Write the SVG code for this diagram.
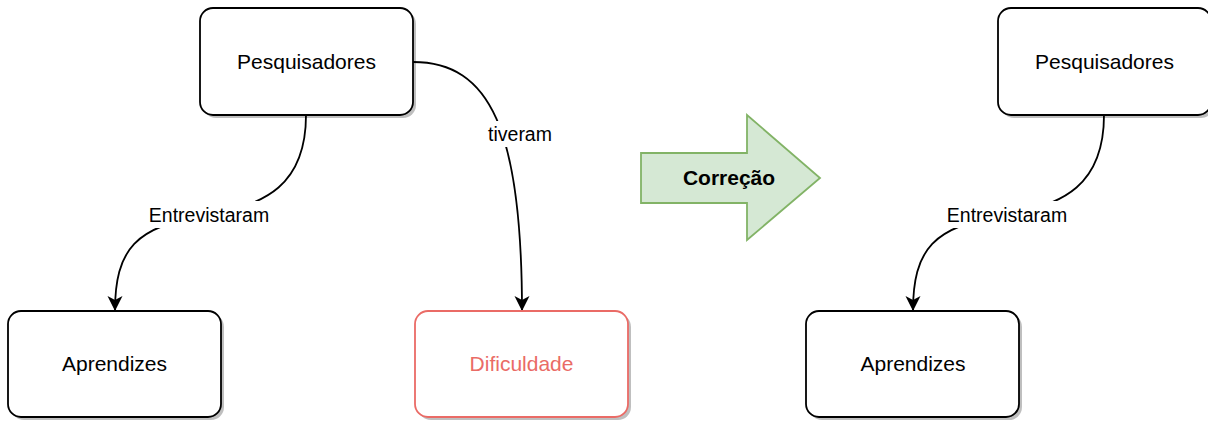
<svg xmlns="http://www.w3.org/2000/svg" width="1208" height="421" viewBox="0 0 1208 421">
<style>
.box{fill:#ffffff;stroke:#000000;stroke-width:1.8}
.red{fill:#ffffff;stroke:#ea6b66;stroke-width:1.8}
.shadow{fill:#000000;opacity:0.25}
.t{font-family:"Liberation Sans",Arial,Helvetica,sans-serif;font-size:21px;fill:#000000;text-anchor:middle}
.lbl{font-family:"Liberation Sans",Arial,Helvetica,sans-serif;font-size:19.5px;fill:#000000;text-anchor:middle}
.edge{fill:none;stroke:#000000;stroke-width:1.8}
.lblbg{fill:#ffffff}
</style>
<defs>
<marker id="arr" markerUnits="userSpaceOnUse" markerWidth="16" markerHeight="16" refX="15" refY="7.5" orient="auto">
<path d="M0,0 L15,7.5 L0,15 L4,7.5 Z" fill="#000000"/>
</marker>
</defs>
<rect width="1208" height="421" fill="#ffffff"/>
<g id="connectors">
<path class="edge" d="M306,115 C306,185 265,205 209,215 C135,225 115,250 115,311" marker-end="url(#arr)"/>
<path class="edge" d="M413,62 C490,62 522,130 522,311" marker-end="url(#arr)"/>
<path class="edge" d="M1104,115 C1104,185 1063,205 1007,215 C933,225 913,250 913,311" marker-end="url(#arr)"/>
<rect class="lblbg" x="147" y="201" width="124" height="27"/>
<text class="lbl" x="209" y="222">Entrevistaram</text>
<rect class="lblbg" x="486" y="121" width="68" height="26"/>
<text class="lbl" x="520" y="141">tiveram</text>
<rect class="lblbg" x="945" y="201" width="124" height="27"/>
<text class="lbl" x="1007" y="222">Entrevistaram</text>
</g>
<g id="pesquisadores-left">
<rect class="shadow" x="203" y="11" width="213" height="107" rx="13"/>
<rect class="box" x="200" y="8" width="213" height="107" rx="13"/>
<text class="t" x="306.5" y="69">Pesquisadores</text>
</g>
<g id="aprendizes-left">
<rect class="shadow" x="11" y="314" width="213" height="106" rx="13"/>
<rect class="box" x="8" y="311" width="213" height="106" rx="13"/>
<text class="t" x="114.5" y="371">Aprendizes</text>
</g>
<g id="dificuldade">
<rect class="shadow" x="418" y="314" width="213" height="106" rx="13"/>
<rect class="red" x="415" y="311" width="213" height="106" rx="13"/>
<text class="t" x="521.5" y="371" style="fill:#ea6b66">Dificuldade</text>
</g>
<g id="correcao">
<polygon points="641,153 747,153 747,115 820,178 747,240 747,203 641,203" fill="#d5e8d4" stroke="#82b366" stroke-width="1.8"/>
<text class="t" x="729" y="185" style="font-weight:bold">Correção</text>
</g>
<g id="pesquisadores-right">
<rect class="shadow" x="1001" y="11" width="213" height="107" rx="13"/>
<rect class="box" x="998" y="8" width="213" height="107" rx="13"/>
<text class="t" x="1104.5" y="69">Pesquisadores</text>
</g>
<g id="aprendizes-right">
<rect class="shadow" x="809" y="314" width="213" height="106" rx="13"/>
<rect class="box" x="806" y="311" width="213" height="106" rx="13"/>
<text class="t" x="913" y="371">Aprendizes</text>
</g>
</svg>
